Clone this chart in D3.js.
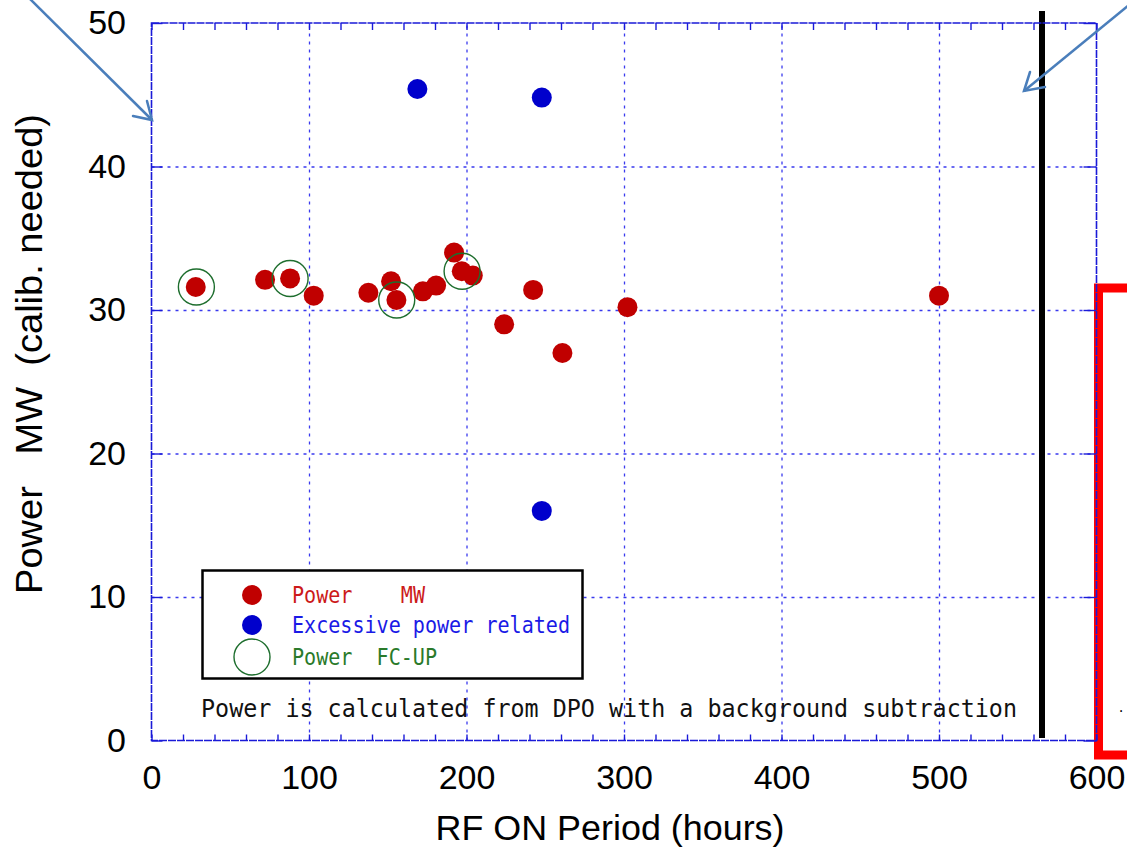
<!DOCTYPE html>
<html>
<head>
<meta charset="utf-8">
<script src="https://cdn.jsdelivr.net/npm/d3@7"></script>
<style>
	body { margin: 0; background: #fff; }
	svg { display: block; }
	text { white-space: pre; }
</style>
</head>
<body>
<svg id="chart" width="1127" height="847"></svg>
<script>
// ----- data -----
const powerHours = [28.1, 72.1, 88.0, 103.0, 137.7, 152.1, 155.5, 172.3, 180.7, 192.1, 197.0, 204.0, 223.9, 242.3, 260.9, 302.2, 500.0];
const powerMW = [31.6, 32.1, 32.2, 31.0, 31.2, 32.0, 30.7, 31.3, 31.7, 34.0, 32.7, 32.4, 29.0, 31.4, 27.0, 30.2, 31.0];

const excessHours = [168.8, 247.8, 247.8];
const excessMW = [45.4, 44.8, 16.0];

const fcupHours = [28.5, 88.0, 155.7, 197.2];
const fcupMW = [31.6, 32.2, 30.7, 32.7];

const xTicks = [0, 100, 200, 300, 400, 500, 600];
const yTicks = [0, 10, 20, 30, 40, 50];
const xMinorTicks = d3.range(0, 601, 20);

const legendLabels = ["Power    MW", "Excessive power related", "Power  FC-UP"];
const noteText = "Power is calculated from DPO with a background subtraction";

// ----- layout -----
let svg = d3.select("#chart");
let plotLeft = 151.5, plotRight = 1096.5, plotTop = 23, plotBottom = 740.5;

let x = d3.scaleLinear().domain([0, 600]).range([plotLeft, plotRight]);
let y = d3.scaleLinear().domain([0, 50]).range([plotBottom, plotTop]);

let mono = "'DejaVu Sans Mono', 'Liberation Mono', monospace";
let sans = "'Liberation Sans', Arial, sans-serif";

/* ---------------- grid ---------------- */

let gx = svg.append("g")
	.attr("transform", "translate(0," + plotBottom + ")")
	.call(d3.axisBottom(x).tickValues([100, 200, 300, 400, 500]).tickSize(-(plotBottom - plotTop)).tickFormat(""));
let gy = svg.append("g")
	.attr("transform", "translate(" + plotLeft + ",0)")
	.call(d3.axisLeft(y).tickValues([10, 20, 30, 40]).tickSize(-(plotRight - plotLeft)).tickFormat(""));
[gx, gy].forEach(function(g){
	g.select(".domain").remove();
	g.selectAll("line")
		.attr("stroke", "#3a3aee")
		.attr("stroke-width", 1.3)
		.attr("stroke-dasharray", "3,5");
});

/* ---------------- red box and black marker line ---------------- */

svg.append("rect")
	.attr("x", 1098.5).attr("y", 288)
	.attr("width", 60).attr("height", 467)
	.attr("fill", "none")
	.attr("stroke", "#ff0000")
	.attr("stroke-width", 9);

svg.append("text")
	.attr("x", 1121).attr("y", 712)
	.attr("text-anchor", "middle")
	.attr("font-family", mono).attr("font-size", 12)
	.text(".");

svg.append("line")
	.attr("x1", 1042).attr("x2", 1042)
	.attr("y1", 11).attr("y2", 738)
	.attr("stroke", "#000").attr("stroke-width", 6);

/* ---------------- frame and ticks ---------------- */

svg.append("rect")
	.attr("x", plotLeft).attr("y", plotTop)
	.attr("width", plotRight - plotLeft).attr("height", plotBottom - plotTop)
	.attr("fill", "none")
	.attr("stroke", "#1a1ad8")
	.attr("stroke-width", 1.6)
	.attr("stroke-dasharray", "8,1");

let tickGroups = [
	svg.append("g").attr("transform", "translate(0," + plotBottom + ")")
		.call(d3.axisBottom(x).tickValues(xMinorTicks).tickSize(-6).tickFormat("")),
	svg.append("g").attr("transform", "translate(0," + plotTop + ")")
		.call(d3.axisTop(x).tickValues(xMinorTicks).tickSize(-7).tickFormat("")),
	svg.append("g").attr("transform", "translate(" + plotLeft + ",0)")
		.call(d3.axisLeft(y).tickValues(yTicks).tickSize(-11).tickFormat("")),
	svg.append("g").attr("transform", "translate(" + plotRight + ",0)")
		.call(d3.axisRight(y).tickValues(yTicks).tickSize(-13).tickFormat(""))
];
tickGroups.forEach(function(g){
	g.select(".domain").remove();
	g.selectAll("line").attr("stroke", "#1a1ad8").attr("stroke-width", 1.4);
});

/* ---------------- tick labels ---------------- */

let xLabels = svg.append("g")
	.attr("transform", "translate(0," + plotBottom + ")")
	.call(d3.axisBottom(x).tickValues(xTicks).tickSize(0).tickPadding(24.5));
let yLabels = svg.append("g")
	.attr("transform", "translate(" + plotLeft + ",0)")
	.call(d3.axisLeft(y).tickValues(yTicks).tickSize(0).tickPadding(25.5));
[xLabels, yLabels].forEach(function(g){
	g.select(".domain").remove();
	g.selectAll("text")
		.attr("font-family", sans)
		.attr("font-size", 34)
		.attr("fill", "#000");
});

/* ---------------- axis titles ---------------- */

svg.append("text")
	.attr("x", 610).attr("y", 840)
	.attr("text-anchor", "middle")
	.attr("font-family", sans).attr("font-size", 35)
	.attr("textLength", 349).attr("lengthAdjust", "spacingAndGlyphs")
	.text("RF ON Period (hours)");

svg.append("text")
	.attr("transform", "translate(42,354) rotate(-90)")
	.attr("text-anchor", "middle")
	.attr("font-family", sans).attr("font-size", 36)
	.attr("textLength", 480).attr("lengthAdjust", "spacingAndGlyphs")
	.text("Power   MW  (calib. needed)");

/* ---------------- points ---------------- */

svg.append("g").selectAll("circle")
	.data(d3.zip(powerHours, powerMW))
	.enter().append("circle")
	.attr("cx", function(d){ return x(d[0]); })
	.attr("cy", function(d){ return y(d[1]); })
	.attr("r", 10)
	.attr("fill", "#c00000");

svg.append("g").selectAll("circle")
	.data(d3.zip(excessHours, excessMW))
	.enter().append("circle")
	.attr("cx", function(d){ return x(d[0]); })
	.attr("cy", function(d){ return y(d[1]); })
	.attr("r", 10)
	.attr("fill", "#0000cc");

svg.append("g").selectAll("circle")
	.data(d3.zip(fcupHours, fcupMW))
	.enter().append("circle")
	.attr("cx", function(d){ return x(d[0]); })
	.attr("cy", function(d){ return y(d[1]); })
	.attr("r", 18)
	.attr("fill", "none")
	.attr("stroke", "#1e6e2e")
	.attr("stroke-width", 1.4);

/* ---------------- legend ---------------- */

let legend = svg.append("g");
legend.append("rect")
	.attr("x", 202.5).attr("y", 570.5)
	.attr("width", 380).attr("height", 108)
	.attr("fill", "#fff")
	.attr("stroke", "#000").attr("stroke-width", 2.5);

let legendColors = ["#c00000", "#0000cc", "#1e6e2e"];
let legendText = ["#cc1a1a", "#1a1ae6", "#2a7a2a"];
let legendRows = [595, 625, 657];
let legendWidths = [133, 278, 145];

legendRows.forEach(function(cy, i){
	if(i < 2){
		legend.append("circle")
			.attr("cx", 252).attr("cy", cy).attr("r", 10)
			.attr("fill", legendColors[i]);
	} else {
		legend.append("circle")
			.attr("cx", 252).attr("cy", cy).attr("r", 18)
			.attr("fill", "none")
			.attr("stroke", legendColors[i]).attr("stroke-width", 1.4);
	}
	legend.append("text")
		.attr("x", 292).attr("y", cy + 8)
		.attr("font-family", mono).attr("font-size", 23)
		.attr("fill", legendText[i])
		.attr("textLength", legendWidths[i]).attr("lengthAdjust", "spacingAndGlyphs")
		.text(legendLabels[i]);
});

svg.append("text")
	.attr("x", 201).attr("y", 717)
	.attr("font-family", mono).attr("font-size", 25)
	.attr("fill", "#111")
	.attr("textLength", 816).attr("lengthAdjust", "spacingAndGlyphs")
	.text(noteText);

/* ---------------- arrows ---------------- */

let arrowColor = "#4a7ebb";
let arrows = [
	{ from: [24, -7], to: [152, 120], h1: [147, 101], h2: [133, 116] },
	{ from: [1135, 0], to: [1024, 91], h1: [1030, 72], h2: [1045, 87] }
];
arrows.forEach(function(a){
	svg.append("line")
		.attr("x1", a.from[0]).attr("y1", a.from[1])
		.attr("x2", a.to[0]).attr("y2", a.to[1])
		.attr("stroke", arrowColor).attr("stroke-width", 2.5);
	svg.append("polyline")
		.attr("points", [a.h1, a.to, a.h2].map(function(p){ return p.join(","); }).join(" "))
		.attr("fill", "none")
		.attr("stroke", arrowColor).attr("stroke-width", 2.5)
		.attr("stroke-linecap", "round");
});
</script>
</body>
</html>
